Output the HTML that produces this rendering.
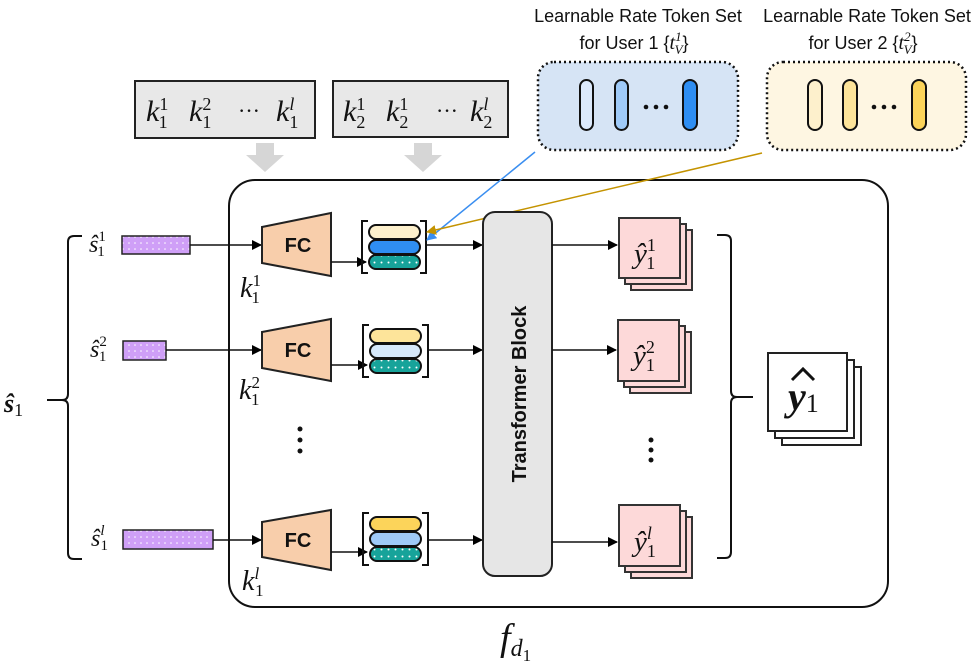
<!DOCTYPE html>
<html><head><meta charset="utf-8"><style>
html,body{margin:0;padding:0;background:#fff}
svg{display:block}
.m{font-family:"Liberation Serif",serif;font-style:italic}
.s{font-family:"Liberation Sans",sans-serif}
</style></head><body>
<svg width="972" height="663" viewBox="0 0 972 663" xmlns="http://www.w3.org/2000/svg">
<defs>
<marker id="a" markerWidth="10" markerHeight="10" refX="9" refY="5" orient="auto" markerUnits="userSpaceOnUse"><path d="M0,0 L10,5 L0,10 z" fill="#000"/></marker>
<marker id="ab" markerWidth="10" markerHeight="10" refX="9" refY="5" orient="auto" markerUnits="userSpaceOnUse"><path d="M0,0 L10,5 L0,10 z" fill="#3a8ef0"/></marker>
<marker id="ag" markerWidth="10" markerHeight="10" refX="9" refY="5" orient="auto" markerUnits="userSpaceOnUse"><path d="M0,0 L10,5 L0,10 z" fill="#c49300"/></marker>
<pattern id="pp" width="6" height="6" patternUnits="userSpaceOnUse"><rect width="6" height="6" fill="#cf9ff7"/><circle cx="3" cy="3" r="0.8" fill="#fff"/></pattern>
<pattern id="tp" width="7" height="7" patternUnits="userSpaceOnUse"><rect width="7" height="7" fill="#17a39a"/><circle cx="3.5" cy="3.5" r="1" fill="#fff"/></pattern>
</defs>

<!-- titles -->
<g class="s" font-size="18" fill="#111" text-anchor="middle">
<text x="638" y="22">Learnable Rate Token Set</text>
<text x="634" y="49">for User 1 {<tspan class="m" font-size="20">t</tspan><tspan class="m" font-size="13" dy="-8">1</tspan><tspan class="m" font-size="13" dx="-7" dy="13">V</tspan><tspan dy="-5">}</tspan></text>
<text x="867" y="22">Learnable Rate Token Set</text>
<text x="863" y="49">for User 2 {<tspan class="m" font-size="20">t</tspan><tspan class="m" font-size="13" dy="-8">2</tspan><tspan class="m" font-size="13" dx="-7" dy="13">V</tspan><tspan dy="-5">}</tspan></text>
</g>
<rect x="538" y="62" width="200" height="88" rx="16" fill="#d6e4f5" stroke="#111" stroke-width="2.5" stroke-dasharray="2 3"/>
<rect x="580" y="80" width="13" height="50" rx="6.5" fill="#dce9fb" stroke="#111" stroke-width="2"/>
<rect x="615" y="80" width="13" height="50" rx="6.5" fill="#9fcaf8" stroke="#111" stroke-width="2"/>
<rect x="683" y="80" width="14" height="50" rx="7" fill="#2f8ef2" stroke="#111" stroke-width="2"/>
<g fill="#111"><circle cx="646" cy="107" r="2.3"/><circle cx="656" cy="107" r="2.3"/><circle cx="666" cy="107" r="2.3"/></g>
<rect x="767" y="62" width="199" height="88" rx="16" fill="#fef6e2" stroke="#111" stroke-width="2.5" stroke-dasharray="2 3"/>
<rect x="808" y="80" width="14" height="50" rx="7" fill="#fdf0cc" stroke="#111" stroke-width="2"/>
<rect x="843" y="80" width="14" height="50" rx="7" fill="#fde49a" stroke="#111" stroke-width="2"/>
<rect x="912" y="80" width="14" height="50" rx="7" fill="#fcd45a" stroke="#111" stroke-width="2"/>
<g fill="#111"><circle cx="874" cy="107" r="2.3"/><circle cx="884" cy="107" r="2.3"/><circle cx="894" cy="107" r="2.3"/></g>

<!-- k boxes -->
<rect x="135" y="81" width="180" height="57" fill="#e8e8e8" stroke="#222" stroke-width="2"/>
<rect x="333" y="81" width="175" height="56" fill="#e8e8e8" stroke="#222" stroke-width="2"/>
<g class="m" font-size="30" fill="#111">
<text x="146" y="121">k<tspan font-size="18" dy="-11" font-style="normal">1</tspan><tspan font-size="18" dx="-9" dy="18" font-style="normal">1</tspan></text>
<text x="189" y="121">k<tspan font-size="18" dy="-11" font-style="normal">2</tspan><tspan font-size="18" dx="-9" dy="18" font-style="normal">1</tspan></text>
<text x="238" y="118" font-style="normal" font-size="22">···</text>
<text x="276" y="121">k<tspan font-size="18" dy="-11">l</tspan><tspan font-size="18" dx="-5" dy="18" font-style="normal">1</tspan></text>
<text x="343" y="121">k<tspan font-size="18" dy="-11" font-style="normal">1</tspan><tspan font-size="18" dx="-9" dy="18" font-style="normal">2</tspan></text>
<text x="386" y="121">k<tspan font-size="18" dy="-11" font-style="normal">1</tspan><tspan font-size="18" dx="-9" dy="18" font-style="normal">2</tspan></text>
<text x="436" y="118" font-style="normal" font-size="22">···</text>
<text x="470" y="121">k<tspan font-size="18" dy="-11">l</tspan><tspan font-size="18" dx="-5" dy="18" font-style="normal">2</tspan></text>
</g>
<path d="M256,143 h18 v12 h10 l-19,17 l-19,-17 h10 z" fill="#d6d6d6"/>
<path d="M414,143 h18 v12 h10 l-19,17 l-19,-17 h10 z" fill="#d6d6d6"/>

<!-- main -->
<rect x="229" y="180" width="659" height="427" rx="26" fill="none" stroke="#111" stroke-width="2"/>
<text x="500" y="650" class="m" font-size="38" fill="#111">f<tspan font-size="24" dy="6">d</tspan><tspan font-size="17" dy="5" font-style="normal">1</tspan></text>

<!-- left bracket -->
<path d="M82,236 H74 Q68,236 68,242 V394 Q68,400 62,400 Q68,400 68,406 V553 Q68,559 74,559 H82" fill="none" stroke="#111" stroke-width="2"/>
<line x1="47" y1="400" x2="62" y2="400" stroke="#111" stroke-width="2"/>
<text x="4" y="412" class="m" font-size="26" font-weight="bold" fill="#111">ŝ<tspan font-size="18" font-weight="normal" font-style="normal" dy="4">1</tspan></text>

<g class="m" font-size="24" fill="#111">
<text x="89" y="252">ŝ<tspan font-size="15" font-style="normal" dy="-11">1</tspan><tspan font-size="15" font-style="normal" dx="-8" dy="15">1</tspan></text>
<text x="90" y="357">ŝ<tspan font-size="15" font-style="normal" dy="-11">2</tspan><tspan font-size="15" font-style="normal" dx="-8" dy="15">1</tspan></text>
<text x="91" y="546">ŝ<tspan font-size="15" dy="-11">l</tspan><tspan font-size="15" font-style="normal" dx="-4" dy="15">1</tspan></text>
</g>
<rect x="122" y="236" width="68" height="18" fill="url(#pp)" stroke="#222" stroke-width="1.5"/>
<rect x="123" y="341" width="43" height="19" fill="url(#pp)" stroke="#222" stroke-width="1.5"/>
<rect x="123" y="530" width="90" height="19" fill="url(#pp)" stroke="#222" stroke-width="1.5"/>
<g stroke="#111" stroke-width="1.6" marker-end="url(#a)">
<line x1="190" y1="245" x2="261" y2="245"/>
<line x1="166" y1="350" x2="261" y2="350"/>
<line x1="213" y1="540" x2="261" y2="540"/>
</g>

<!-- FC -->
<g stroke="#222" stroke-width="2" fill="#f8ceab">
<path d="M262,227 L331,213 L331,276 L262,263 z"/>
<path d="M262,332 L331,319 L331,381 L262,368 z"/>
<path d="M262,522 L331,510 L331,570 L262,557 z"/>
</g>
<g class="s" font-size="20" font-weight="bold" fill="#111" text-anchor="middle">
<text x="298" y="252">FC</text><text x="298" y="357">FC</text><text x="298" y="547">FC</text>
</g>
<g class="m" font-size="28" fill="#111">
<text x="240" y="297">k<tspan font-size="17" font-style="normal" dy="-11">1</tspan><tspan font-size="17" font-style="normal" dx="-9" dy="17">1</tspan></text>
<text x="239" y="399">k<tspan font-size="17" font-style="normal" dy="-11">2</tspan><tspan font-size="17" font-style="normal" dx="-9" dy="17">1</tspan></text>
<text x="242" y="590">k<tspan font-size="17" dy="-11">l</tspan><tspan font-size="17" font-style="normal" dx="-4" dy="17">1</tspan></text>
</g>
<g fill="#111"><circle cx="300" cy="429" r="2.5"/><circle cx="300" cy="440" r="2.5"/><circle cx="300" cy="451" r="2.5"/></g>

<g stroke="#111" stroke-width="1.6" marker-end="url(#a)">
<line x1="331" y1="262" x2="366" y2="262"/>
<line x1="331" y1="365" x2="367" y2="365"/>
<line x1="331" y1="552" x2="367" y2="552"/>
</g>

<!-- token stacks -->
<g stroke="#111" stroke-width="2" fill="none">
<path d="M368,221 h-6 v52 h6 M420,221 h6 v52 h-6"/>
<path d="M369,325 h-6 v52 h6 M422,325 h6 v52 h-6"/>
<path d="M369,513 h-6 v52 h6 M422,513 h6 v52 h-6"/>
</g>
<g stroke="#111" stroke-width="2">
<rect x="369" y="225" width="51" height="14" rx="7" fill="#fdf0cc"/>
<rect x="369" y="240" width="51" height="14" rx="7" fill="#2f8ef2"/>
<rect x="369" y="255" width="51" height="14" rx="7" fill="url(#tp)"/>
<rect x="370" y="329" width="51" height="14" rx="7" fill="#fde49a"/>
<rect x="370" y="344" width="51" height="14" rx="7" fill="#d6e8fb"/>
<rect x="370" y="359" width="51" height="14" rx="7" fill="url(#tp)"/>
<rect x="370" y="517" width="51" height="14" rx="7" fill="#fcd45a"/>
<rect x="370" y="532" width="51" height="14" rx="7" fill="#9fcaf8"/>
<rect x="370" y="547" width="51" height="14" rx="7" fill="url(#tp)"/>
</g>
<g stroke="#111" stroke-width="1.6" marker-end="url(#a)">
<line x1="426" y1="245" x2="482" y2="245"/>
<line x1="428" y1="350" x2="482" y2="350"/>
<line x1="428" y1="540" x2="482" y2="540"/>
</g>
<line x1="535" y1="152" x2="427" y2="240" stroke="#3a8ef0" stroke-width="1.5" marker-end="url(#ab)"/>
<line x1="762" y1="153" x2="427" y2="232" stroke="#c49300" stroke-width="1.5" marker-end="url(#ag)"/>

<!-- transformer -->
<rect x="483" y="212" width="69" height="364" rx="12" fill="#e6e6e6" stroke="#222" stroke-width="2"/>
<text transform="translate(526,394) rotate(-90)" class="s" font-size="20" font-weight="bold" fill="#111" text-anchor="middle">Transformer Block</text>

<g stroke="#111" stroke-width="1.6" marker-end="url(#a)">
<line x1="552" y1="245" x2="617" y2="245"/>
<line x1="552" y1="350" x2="616" y2="350"/>
<line x1="552" y1="542" x2="617" y2="542"/>
</g>

<!-- y stacks -->
<g stroke="#333" stroke-width="2" fill="#fdd9d9">
<rect x="631" y="230" width="61" height="60"/><rect x="625" y="224" width="61" height="60"/><rect x="619" y="218" width="61" height="60"/>
<rect x="630" y="332" width="61" height="61"/><rect x="624" y="326" width="61" height="61"/><rect x="618" y="320" width="61" height="61"/>
<rect x="631" y="517" width="61" height="61"/><rect x="625" y="511" width="61" height="61"/><rect x="619" y="505" width="61" height="61"/>
</g>
<g class="m" font-size="29" fill="#111">
<text x="634" y="263">ŷ<tspan font-size="18" font-style="normal" dy="-12">1</tspan><tspan font-size="18" font-style="normal" dx="-9" dy="18">1</tspan></text>
<text x="633" y="365">ŷ<tspan font-size="18" font-style="normal" dy="-12">2</tspan><tspan font-size="18" font-style="normal" dx="-9" dy="18">1</tspan></text>
<text x="634" y="551">ŷ<tspan font-size="18" dy="-12">l</tspan><tspan font-size="18" font-style="normal" dx="-5" dy="18">1</tspan></text>
</g>
<g fill="#111"><circle cx="651" cy="440" r="2.5"/><circle cx="651" cy="450" r="2.5"/><circle cx="651" cy="460" r="2.5"/></g>

<!-- right bracket -->
<path d="M717,235 H725 Q731,235 731,241 V391 Q731,397 737,397 Q731,397 731,403 V552 Q731,558 725,558 H717" fill="none" stroke="#111" stroke-width="2"/>
<line x1="737" y1="397" x2="753" y2="397" stroke="#111" stroke-width="2"/>

<g stroke="#222" stroke-width="2" fill="#fff">
<rect x="782" y="367" width="79" height="78"/><rect x="775" y="360" width="79" height="78"/><rect x="768" y="353" width="79" height="78"/>
</g>
<text x="788" y="410" class="m" font-size="40" font-weight="bold" fill="#111">y<tspan font-size="26" font-weight="normal" font-style="normal" dy="2">1</tspan></text>
<path d="M792,380 L803,369 L814,380" fill="none" stroke="#111" stroke-width="3"/>
</svg>
</body></html>
